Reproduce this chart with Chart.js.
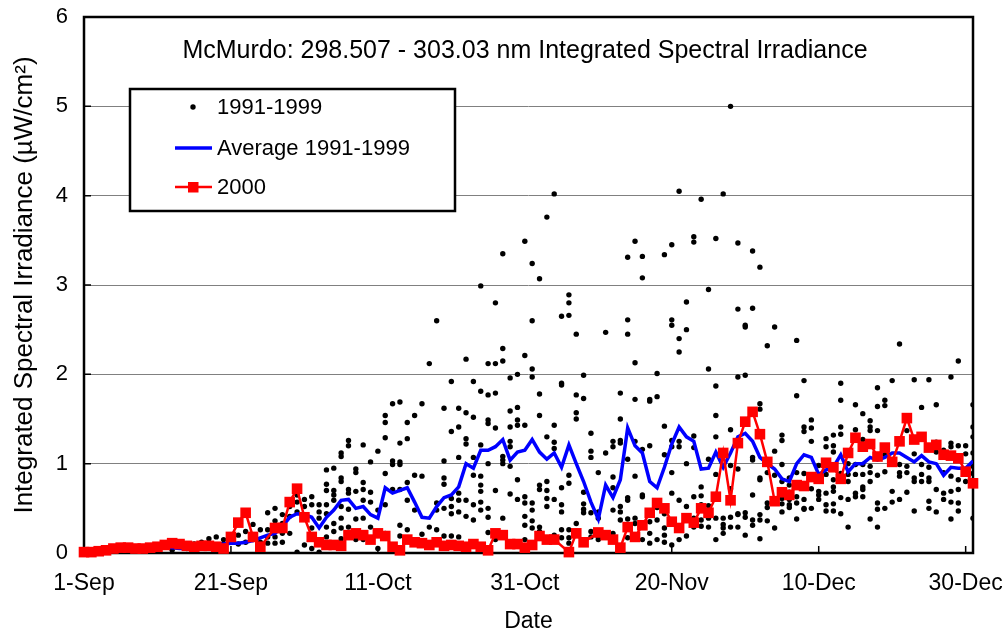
<!DOCTYPE html>
<html>
<head>
<meta charset="utf-8">
<script src="https://cdn.jsdelivr.net/npm/chart.js@4"></script>
<style>
  html, body { margin: 0; padding: 0; background: #fff; }
</style>
</head>
<body>
<canvas id="chart" width="1006" height="638"></canvas>
<script>
// Axe des x : jours depuis le 1er septembre
const tickDays = [0, 20, 40, 60, 80, 100, 120];
const tickLabels = ['1-Sep', '21-Sep', '11-Oct', '31-Oct', '20-Nov', '10-Dec', '30-Dec'];

// Moyenne 1991-1999 (un point par jour, jour 0 a 121)
const avgValues = [
  0.02, 0.02, 0.03, 0.03, 0.04, 0.04, 0.05, 0.05, 0.06, 0.06,
  0.07, 0.07, 0.06, 0.05, 0.05, 0.06, 0.07, 0.08, 0.09, 0.10,
  0.11, 0.11, 0.12, 0.14, 0.17, 0.20, 0.22, 0.30, 0.40, 0.44,
  0.43, 0.40, 0.28, 0.40, 0.48, 0.59, 0.60, 0.50, 0.52, 0.43,
  0.39, 0.73, 0.67, 0.70, 0.73, 0.57, 0.40, 0.39, 0.52, 0.62,
  0.65, 0.74, 1.00, 0.95, 1.15, 1.15, 1.19, 1.27, 1.04, 1.13,
  1.15, 1.27, 1.13, 1.05, 1.12, 0.96, 1.21, 1.00, 0.80, 0.57,
  0.38, 0.76, 0.62, 0.82, 1.40, 1.20, 1.12, 0.80, 0.73, 0.96,
  1.22, 1.41, 1.30, 1.25, 0.94, 0.95, 1.13, 0.96, 1.12, 1.30,
  1.34, 1.25, 1.07, 1.00, 0.94, 0.83, 0.80, 1.00, 1.10, 1.07,
  0.88, 0.93, 0.96, 1.10, 0.91, 1.00, 1.00, 1.07, 1.04, 1.07,
  1.12, 1.12, 1.07, 1.02, 1.09, 1.02, 1.00, 0.87, 0.96, 0.95,
  0.95, 1.03
];

// 2000 (quelques jours manquants)
const days2000 = [
  0, 1, 2, 3, 4, 5, 6, 7, 8, 9, 10, 11, 12, 13, 14, 15, 16, 17, 18, 19,
  20, 21, 22, 23, 24, 26, 27, 28, 29, 30, 31, 32, 33, 34, 35, 36, 37, 38, 39, 40,
  41, 42, 43, 44, 45, 46, 47, 48, 49, 50, 51, 52, 53, 54, 55, 56, 57, 58, 59, 60,
  61, 62, 63, 64, 66, 67, 68, 70, 71, 72, 73, 74, 75, 76, 77, 78, 79, 80, 81, 82,
  83, 84, 85, 86, 87, 88, 89, 90, 91, 92, 93, 94, 95, 96, 97, 98, 99, 100, 101, 102,
  103, 104, 105, 106, 107, 108, 109, 110, 111, 112, 113, 114, 115, 116, 117, 118, 119, 120, 121
];
const values2000 = [
  0.01, 0.01, 0.02, 0.03, 0.05, 0.06, 0.06, 0.05, 0.05, 0.06, 0.07, 0.09, 0.11, 0.10, 0.08, 0.07, 0.08, 0.08, 0.07, 0.05,
  0.18, 0.34, 0.45, 0.18, 0.07, 0.28, 0.28, 0.57, 0.72, 0.40, 0.18, 0.12, 0.09, 0.09, 0.08, 0.20, 0.22, 0.20, 0.15, 0.22,
  0.19, 0.07, 0.03, 0.15, 0.12, 0.11, 0.09, 0.12, 0.08, 0.09, 0.08, 0.07, 0.10, 0.07, 0.03, 0.22, 0.20, 0.10, 0.10, 0.06,
  0.09, 0.19, 0.15, 0.15, 0.01, 0.22, 0.12, 0.23, 0.20, 0.15, 0.06, 0.29, 0.18, 0.31, 0.45, 0.56, 0.50, 0.35, 0.28, 0.39,
  0.34, 0.50, 0.45, 0.63, 1.12, 0.59, 1.23, 1.47, 1.58, 1.33, 1.02, 0.58, 0.68, 0.65, 0.76, 0.75, 0.85, 0.83, 1.01, 0.96,
  0.83, 1.12, 1.29, 1.19, 1.22, 1.08, 1.18, 1.02, 1.25, 1.51, 1.27, 1.30, 1.18, 1.21, 1.10, 1.09, 1.06, 0.91, 0.78
];

// Mesures 1991-1999 : [jour, valeurs du jour]
const obs1991to1999 = [
  [10, [0.04]], [12, [0.03]], [13, [0.07]], [14, [0.05, 0.1]], [15, [0.1]],
  [16, [0.12, 0.06]], [17, [0.16, 0.1]], [18, [0.18, 0.09]], [19, [0.15, 0.1]],
  [20, [0.13, 0.19]], [21, [0.2, 0.1]], [22, [0.24, 0.12]], [23, [0.32, 0.15]], [24, [0.26, 0.12]],
  [25, [0.45, 0.26, 0.18, 0.11]], [26, [0.5, 0.36, 0.18, 0.11]], [27, [0.43, 0.33, 0.22, 0.12]],
  [28, [0.52, 0.41, 0.22]], [29, [0.65, 0.57, 0.46, 0.01]], [30, [0.6, 0.52, 0.43, 0.09]],
  [31, [0.63, 0.54, 0.28, 0.05]], [32, [0.54, 0.46, 0.39, 0.01]],
  [33, [0.93, 0.77, 0.7, 0.54, 0.44, 0.29, 0.18]], [34, [0.95, 0.7, 0.65, 0.59, 0.33, 0.24]],
  [35, [1.12, 1.08, 0.84, 0.8, 0.52, 0.39, 0.28, 0.16]], [36, [1.26, 1.2, 0.71, 0.67, 0.49, 0.29]],
  [37, [0.94, 0.9, 0.69, 0.38, 0.15]], [38, [1.21, 0.79, 0.71, 0.59, 0.39, 0.15]],
  [39, [1.02, 0.68, 0.57, 0.29]], [40, [1.14, 0.48, 0.05]],
  [41, [1.54, 1.46, 1.29, 0.89, 0.54, 0.22]], [42, [1.67, 1.03, 0.99, 0.71]],
  [43, [1.69, 1.23, 1.02, 0.99, 0.71, 0.31, 0.19]], [44, [1.46, 1.28, 0.79, 0.59, 0.26]],
  [45, [1.54, 0.87, 0.48]], [46, [1.67, 0.86, 0.21]], [47, [2.12, 0.29]], [48, [2.6, 0.56, 0.48, 0.26]],
  [49, [1.62, 1.03, 0.84, 0.77, 0.5, 0.19]], [50, [1.92, 1.36, 0.61, 0.52, 0.44, 0.19]],
  [51, [1.62, 1.41, 1.07, 0.67, 0.59, 0.46, 0.18]], [52, [2.17, 1.57, 1.28, 1.22, 0.59, 0.41]],
  [53, [1.92, 1.52, 1.07, 0.87, 0.54, 0.37]], [54, [2.99, 1.81, 1.21, 0.86, 0.76, 0.69, 0.57, 0.48]],
  [55, [2.12, 1.77, 1.49, 1.45, 1.0, 0.5, 0.4, 0.23]], [56, [2.8, 2.12, 1.79, 1.4, 0.7, 0.15]],
  [57, [3.35, 2.29, 2.15, 1.08, 1.04, 1.0, 0.39]], [58, [1.96, 1.59, 1.41, 1.25, 1.19, 0.97, 0.66]],
  [59, [2.0, 1.63, 1.49, 1.43, 0.82, 0.6]], [60, [3.49, 2.21, 1.43, 0.63, 0.56, 0.41, 0.31, 0.15]],
  [61, [3.24, 2.6, 2.06, 1.97, 0.56, 0.48, 0.36, 0.28]], [62, [3.07, 1.78, 1.54, 0.76, 0.71, 0.29, 0.24]],
  [63, [3.76, 1.3, 0.8, 0.7, 0.61, 0.52]], [64, [4.02, 1.43, 1.24, 1.17, 0.6, 0.2]],
  [65, [2.65, 1.9, 1.88, 0.73, 0.54, 0.46, 0.26, 0.17]], [66, [2.89, 2.8, 2.66, 0.87, 0.78, 0.26, 0.17, 0.11]],
  [67, [2.45, 1.77, 1.57, 1.5, 0.33, 0.24]], [68, [1.99, 1.73, 0.68, 0.55, 0.49, 0.45, 0.15]],
  [69, [1.34, 1.14, 1.07, 0.45, 0.24, 0.18]], [70, [0.9, 0.46, 0.39, 0.18, 0.15]],
  [71, [2.47, 1.12, 0.18]], [72, [1.25, 1.19, 0.85, 0.73, 0.48, 0.22, 0.15]],
  [73, [1.79, 1.5, 1.26, 1.23, 0.52, 0.46, 0.37]], [74, [3.31, 2.61, 2.45, 1.05, 0.62, 0.59, 0.38, 0.17]],
  [75, [3.49, 2.13, 1.72, 1.25, 0.86, 0.39, 0.33]], [76, [3.32, 3.08, 1.16, 0.65, 0.63, 0.15]],
  [77, [1.72, 1.7, 1.2, 0.45, 0.35, 0.22, 0.11]], [78, [2.01, 1.75, 0.51, 0.37, 0.15]],
  [79, [3.34, 1.42, 1.1, 0.44, 0.28, 0.2, 0.12]], [80, [3.45, 2.61, 2.55, 1.26, 1.19, 0.9, 0.67, 0.33, 0.09]],
  [81, [4.05, 2.4, 2.25, 1.25, 1.19, 0.59, 0.28, 0.15]], [82, [2.81, 2.5, 1.0, 0.52, 0.19]],
  [83, [3.54, 3.48, 1.31, 1.18, 0.63, 0.39, 0.29]], [84, [3.96, 0.74, 0.64, 0.54, 0.37, 0.3]],
  [85, [2.95, 2.06, 1.05, 0.53, 0.39, 0.29]], [86, [3.52, 1.87, 1.54, 1.3, 0.88, 0.39, 0.15]],
  [87, [4.02, 0.39, 0.32, 0.28, 0.22]], [88, [5.0, 1.38, 0.98, 0.72, 0.4, 0.29]],
  [89, [3.47, 2.73, 1.97, 0.94, 0.44, 0.43, 0.29]], [90, [2.55, 2.53, 1.99, 0.45, 0.4, 0.2]],
  [91, [3.38, 2.74, 1.07, 1.04, 0.65, 0.37, 0.31]], [92, [3.2, 1.67, 1.61, 0.84, 0.82, 0.43, 0.37, 0.16]],
  [93, [2.32, 0.9, 0.56, 0.51, 0.36]], [94, [2.53, 1.14, 0.87, 0.28]],
  [95, [1.32, 1.26, 0.99, 0.8, 0.61, 0.55, 0.46]], [96, [0.84, 0.76, 0.68, 0.6, 0.54, 0.51]],
  [97, [2.38, 1.76, 0.9, 0.63, 0.56, 0.38]], [98, [1.93, 1.41, 1.36, 0.89, 0.6, 0.5, 0.49]],
  [99, [1.49, 1.4, 1.25, 0.72, 0.5]], [100, [0.98, 0.69, 0.65, 0.6]],
  [101, [1.28, 1.19, 0.88, 0.67, 0.54, 0.47]], [102, [1.32, 1.2, 1.13, 0.82, 0.74, 0.69, 0.55, 0.47]],
  [103, [1.9, 1.71, 1.41, 1.33, 0.89, 0.62, 0.44]], [104, [1.0, 0.88, 0.8, 0.6, 0.29]],
  [105, [1.66, 1.38, 0.99, 0.88, 0.67, 0.63]], [106, [1.56, 1.27, 1.19, 0.99, 0.88, 0.74, 0.71, 0.63]],
  [107, [1.48, 1.41, 1.37, 0.97, 0.9, 0.8, 0.38]], [108, [1.85, 1.64, 1.37, 1.1, 0.87, 0.56, 0.49, 0.29]],
  [109, [1.71, 1.65, 1.1, 0.91, 0.5]], [110, [1.93, 0.69, 0.57]],
  [111, [2.34, 0.99, 0.9, 0.86, 0.6]], [112, [1.37, 0.97, 0.9, 0.68]],
  [113, [1.94, 1.11, 0.84, 0.8, 0.47]], [114, [1.63, 0.99, 0.88, 0.8]],
  [115, [1.94, 0.96, 0.84, 0.8, 0.58, 0.5]], [116, [1.66, 1.24, 1.13, 0.71, 0.46]],
  [117, [1.15, 0.9, 0.67, 0.6]], [118, [1.97, 1.23, 1.19, 0.86, 0.69, 0.57, 0.38]],
  [119, [2.15, 1.2, 0.82, 0.71, 0.56, 0.47]], [120, [1.2, 1.11, 0.89, 0.8]],
  [121, [1.66, 1.41, 1.3, 1.12, 0.97, 0.89, 0.39]]
];

const FONT = 'Arial, "Liberation Sans", sans-serif';

// Points pour Chart.js
let obsPoints = [];
for (const [day, vals] of obs1991to1999) {
    for (const v of vals) obsPoints.push({ x: day, y: v });
}
let avgPoints = avgValues.map((v, i) => ({ x: i, y: v }));
let points2000 = days2000.map((d, i) => ({ x: d, y: values2000[i] }));

// Pas de marge supplementaire ajoutee par les axes
function noScalePadding(s) {
    s.paddingLeft = 0;
    s.paddingRight = 0;
    s.paddingTop = 0;
    s.paddingBottom = 0;
}

// Cadre, petites graduations, titre interne et legende
const decor = {
    id: 'decor',
    beforeDatasetsDraw(chart) {
        const { ctx, chartArea: a, scales: { x, y } } = chart;
        ctx.save();
        ctx.strokeStyle = '#000';
        ctx.lineWidth = 1.5;
        ctx.beginPath();
        for (const d of tickDays) {
            const px = x.getPixelForValue(d);
            ctx.moveTo(px, a.bottom);
            ctx.lineTo(px, a.bottom - 7);
        }
        for (let v = 1; v < 6; v++) {
            const py = y.getPixelForValue(v);
            ctx.moveTo(a.left, py);
            ctx.lineTo(a.left + 7, py);
        }
        ctx.stroke();
        ctx.lineWidth = 2.5;
        ctx.strokeRect(a.left, a.top, a.right - a.left, a.bottom - a.top);
        ctx.restore();
    },
    afterDatasetsDraw(chart) {
        const ctx = chart.ctx;
        ctx.save();
        ctx.fillStyle = '#000';
        ctx.textBaseline = 'middle';
        ctx.textAlign = 'center';
        ctx.font = '25px ' + FONT;
        ctx.fillText('McMurdo: 298.507 - 303.03 nm Integrated Spectral Irradiance', 525, 51);

        // boite de legende
        ctx.fillStyle = '#fff';
        ctx.fillRect(130, 89, 325, 122);
        ctx.strokeStyle = '#000';
        ctx.lineWidth = 2.5;
        ctx.strokeRect(130, 89, 325, 122);

        ctx.fillStyle = '#000';
        ctx.beginPath();
        ctx.arc(193, 107, 2.7, 0, Math.PI * 2);
        ctx.fill();

        ctx.strokeStyle = '#0000ff';
        ctx.lineWidth = 3.5;
        ctx.beginPath();
        ctx.moveTo(175, 148);
        ctx.lineTo(212, 148);
        ctx.stroke();

        ctx.strokeStyle = '#ff0000';
        ctx.lineWidth = 2.5;
        ctx.beginPath();
        ctx.moveTo(175, 187);
        ctx.lineTo(212, 187);
        ctx.stroke();
        ctx.fillStyle = '#ff0000';
        ctx.fillRect(188, 182, 10.5, 10.5);

        ctx.fillStyle = '#000';
        ctx.textAlign = 'left';
        ctx.font = '22px ' + FONT;
        ctx.fillText('1991-1999', 217, 108);
        ctx.fillText('Average 1991-1999', 217, 149);
        ctx.fillText('2000', 217, 188);
        ctx.restore();
    }
};

new Chart(
    document.getElementById('chart'),
    {
        type: 'scatter',
        data: {
            datasets: [
                {
                    label: '2000',
                    data: points2000,
                    showLine: true,
                    borderColor: '#ff0000',
                    backgroundColor: '#ff0000',
                    borderWidth: 2.5,
                    pointStyle: 'rect',
                    pointRadius: 7.5,
                    pointBorderWidth: 0,
                    tension: 0,
                    clip: false,
                    order: 1
                },
                {
                    label: 'Average 1991-1999',
                    data: avgPoints,
                    showLine: true,
                    borderColor: '#0000ff',
                    borderWidth: 3.5,
                    pointRadius: 0,
                    tension: 0,
                    order: 2
                },
                {
                    label: '1991-1999',
                    data: obsPoints,
                    backgroundColor: '#000',
                    borderColor: '#000',
                    pointRadius: 2.7,
                    pointBorderWidth: 0,
                    order: 3
                }
            ]
        },
        options: {
            responsive: false,
            animation: false,
            layout: { padding: { left: 0, right: 33, top: 17, bottom: 0 } },
            scales: {
                x: {
                    type: 'linear',
                    min: 0,
                    max: 121,
                    afterBuildTicks: s => { s.ticks = tickDays.map(v => ({ value: v })); },
                    afterFit: s => { s.height = 85; noScalePadding(s); },
                    grid: { display: false, drawTicks: false },
                    border: { display: false },
                    ticks: {
                        callback: v => tickLabels[tickDays.indexOf(v)],
                        maxRotation: 0,
                        autoSkip: false,
                        padding: 17,
                        color: '#000',
                        font: { family: FONT, size: 23 }
                    },
                    title: {
                        display: true,
                        text: 'Date',
                        color: '#000',
                        font: { family: FONT, size: 23 },
                        padding: { top: 0, bottom: 3 }
                    }
                },
                y: {
                    min: 0,
                    max: 6,
                    afterFit: s => { s.width = 84; noScalePadding(s); },
                    grid: {
                        drawTicks: false,
                        color: c => (c.tick.value === 0 || c.tick.value === 6) ? 'rgba(0,0,0,0)' : '#808080',
                        lineWidth: 1
                    },
                    border: { display: false },
                    ticks: {
                        stepSize: 1,
                        padding: 16,
                        color: '#000',
                        font: { family: FONT, size: 22 }
                    },
                    title: {
                        display: true,
                        text: 'Integrated Spectral Irradiance (µW/cm²)',
                        color: '#000',
                        font: { family: FONT, size: 26 },
                        padding: { top: 9, bottom: 0 }
                    }
                }
            },
            plugins: {
                legend: { display: false },
                tooltip: { enabled: false }
            }
        },
        plugins: [decor]
    }
);
</script>
</body>
</html>
